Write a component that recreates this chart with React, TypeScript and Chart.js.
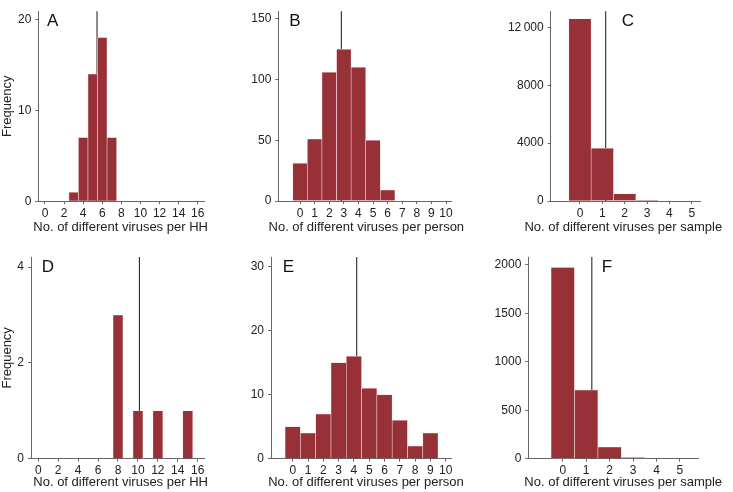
import React, { useEffect, useRef } from "react";
import { Chart, registerables } from "chart.js";

Chart.register(...registerables);

// ---------- Data ----------
const hhBinsA = [3, 4, 5, 6, 7];
const hhCountsA = [1, 7, 14, 18, 7];
const hhMeanA = 5.45;

const personBinsB = [0, 1, 2, 3, 4, 5, 6];
const personCountsB = [31, 51, 106, 125, 110, 50, 9];
const personMeanB = 2.83;

const sampleBinsC = [0, 1, 2, 3];
const sampleCountsC = [12600, 3640, 500, 20];
const sampleMeanC = 1.15;

const hhBinsD = [8, 9, 10, 11, 12, 13, 14, 15];
const hhCountsD = [3, 0, 1, 0, 1, 0, 0, 1];
const hhMeanD = 10.15;

const personBinsE = [0, 1, 2, 3, 4, 5, 6, 7, 8, 9];
const personCountsE = [5, 4, 7, 15, 16, 11, 10, 6, 2, 4];
const personMeanE = 4.18;

const sampleBinsF = [0, 1, 2, 3];
const sampleCountsF = [1975, 710, 120, 12];
const sampleMeanF = 1.24;

const hhXTicks = [0, 2, 4, 6, 8, 10, 12, 14, 16];
const personXTicks = [0, 1, 2, 3, 4, 5, 6, 7, 8, 9, 10];
const sampleXTicks = [0, 1, 2, 3, 4, 5];

const yTicksA = [0, 10, 20];
const yTicksB = [0, 50, 100, 150];
const yTicksC = [0, 4000, 8000, 12000];
const yTicksD = [0, 2, 4];
const yTicksE = [0, 10, 20, 30];
const yTicksF = [0, 500, 1000, 1500, 2000];

const xTitleHH = "No. of different viruses per HH";
const xTitlePerson = "No. of different viruses per person";
const xTitleSample = "No. of different viruses per sample";
const yTitleFreq = "Frequency";
const panelLetters = ["A", "B", "C", "D", "E", "F"];

// ---------- Styles ----------
const FONT = "'Liberation Sans', Arial, Helvetica, sans-serif";
const BAR = "#973037";
const BAR_EDGE = "#f3dcdc";
const AXIS = "#666666";
const TEXT = "#222222";
const MEAN_LINE = "#2a2a2a";

type Frame = {
  left: number; top: number; width: number; height: number;
  chartLeft: number; chartRight: number; chartTop: number; chartBottom: number;
  padBottom: number; letterDx: number; letterDy: number;
  titleX: number; titleY: number;
};

type Spec = {
  letter: string; bins: number[]; counts: number[]; mean: number;
  xTicks: number[]; yTicks: number[]; xMin: number; xMax: number; yMax: number;
  xTitle: string; yTitle?: string; frame: Frame;
};

const specs: Spec[] = [
  {
    letter: panelLetters[0], bins: hhBinsA, counts: hhCountsA, mean: hhMeanA,
    xTicks: hhXTicks, yTicks: yTicksA, xMin: -0.7, xMax: 16.65, yMax: 20.9,
    xTitle: xTitleHH, yTitle: yTitleFreq,
    frame: { left: 0, top: 0, width: 215, height: 235, chartLeft: 38.3, chartRight: 204, chartTop: 0, chartBottom: 201.2, padBottom: 0, letterDx: 8.7, letterDy: 15, titleX: 120.6, titleY: 227 },
  },
  {
    letter: panelLetters[1], bins: personBinsB, counts: personCountsB, mean: personMeanB,
    xTicks: personXTicks, yTicks: yTicksB, xMin: -1.49, xMax: 10.39, yMax: 156.2,
    xTitle: xTitlePerson,
    frame: { left: 240, top: 0, width: 225, height: 235, chartLeft: 278.3, chartRight: 451.7, chartTop: 0, chartBottom: 201, padBottom: 0, letterDx: 11, letterDy: 15, titleX: 366.3, titleY: 227 },
  },
  {
    letter: panelLetters[2], bins: sampleBinsC, counts: sampleCountsC, mean: sampleMeanC,
    xTicks: sampleXTicks, yTicks: yTicksC, xMin: -1.31, xMax: 5.37, yMax: 13120,
    xTitle: xTitleSample,
    frame: { left: 490, top: 0, width: 243, height: 235, chartLeft: 550.7, chartRight: 700, chartTop: 0, chartBottom: 201, padBottom: 0, letterDx: 71, letterDy: 15, titleX: 623.3, titleY: 227 },
  },
  {
    letter: panelLetters[3], bins: hhBinsD, counts: hhCountsD, mean: hhMeanD,
    xTicks: hhXTicks, yTicks: yTicksD, xMin: -0.73, xMax: 16.63, yMax: 4.21,
    xTitle: xTitleHH, yTitle: yTitleFreq,
    frame: { left: 0, top: 245, width: 215, height: 247, chartLeft: 31, chartRight: 204, chartTop: 257, chartBottom: 458.7, padBottom: 1.4, letterDx: 10.7, letterDy: 15.3, titleX: 120.6, titleY: 482.8 },
  },
  {
    letter: panelLetters[4], bins: personBinsE, counts: personCountsE, mean: personMeanE,
    xTicks: personXTicks, yTicks: yTicksE, xMin: -1.42, xMax: 10.39, yMax: 31.5,
    xTitle: xTitlePerson,
    frame: { left: 240, top: 245, width: 225, height: 247, chartLeft: 271, chartRight: 451.7, chartTop: 257, chartBottom: 458.7, padBottom: 1.4, letterDx: 11.7, letterDy: 15.3, titleX: 366, titleY: 482.8 },
  },
  {
    letter: panelLetters[5], bins: sampleBinsF, counts: sampleCountsF, mean: sampleMeanF,
    xTicks: sampleXTicks, yTicks: yTicksF, xMin: -1.47, xMax: 5.77, yMax: 2082,
    xTitle: xTitleSample,
    frame: { left: 490, top: 245, width: 243, height: 247, chartLeft: 528.3, chartRight: 698, chartTop: 257, chartBottom: 458.7, padBottom: 1.4, letterDx: 73.4, letterDy: 15.3, titleX: 623.2, titleY: 482.8 },
  },
];

function formatTick(v: number): string {
  if (Math.abs(v) >= 10000) {
    const s = String(Math.round(v));
    return s.slice(0, s.length - 3) + "\u2009" + s.slice(s.length - 3);
  }
  return String(v);
}

function Panel({ spec }: { spec: Spec }) {
  const ref = useRef<HTMLCanvasElement | null>(null);
  const f = spec.frame;

  useEffect(() => {
    if (!ref.current) return;
    const yAxisW = f.chartLeft - f.left;
    const padRight = f.left + f.width - f.chartRight;
    const padTop = f.chartTop - f.top;
    const xAxisH = f.top + f.height - f.padBottom - f.chartBottom;

    const textPlugin = {
      id: "panelText",
      afterDraw(chart: any) {
        const ctx = chart.ctx;
        const a = chart.chartArea;
        ctx.save();
        // panel letter
        ctx.font = `17px ${FONT}`;
        ctx.fillStyle = "#111111";
        ctx.textAlign = "left";
        ctx.textBaseline = "alphabetic";
        ctx.fillText(spec.letter, a.left + f.letterDx, a.top + f.letterDy);
        // x-axis title (drawn unclipped, wider than plot area like the original)
        ctx.font = `13px ${FONT}`;
        ctx.fillStyle = TEXT;
        ctx.textAlign = "center";
        ctx.textBaseline = "middle";
        ctx.fillText(spec.xTitle, f.titleX - f.left, f.titleY - f.top);
        ctx.restore();
      },
    };

    const chart = new Chart(ref.current, {
      type: "bar",
      data: {
        datasets: [
          {
            type: "bar",
            data: spec.bins.map((b, i) => ({ x: b, y: spec.counts[i] })),
            backgroundColor: BAR,
            borderColor: BAR_EDGE,
            borderWidth: 0.6,
            barPercentage: 1,
            categoryPercentage: 1,
            order: 0,
          } as any,
          {
            type: "line",
            data: [
              { x: spec.mean, y: 0 },
              { x: spec.mean, y: spec.yMax },
            ],
            borderColor: MEAN_LINE,
            borderWidth: 1.1,
            pointRadius: 0,
            order: 1,
            clip: false,
          } as any,
        ],
      },
      options: {
        responsive: false,
        animation: false,
        devicePixelRatio: 1,
        layout: {
          autoPadding: false,
          padding: { left: 0, right: padRight, top: padTop, bottom: f.padBottom },
        },
        plugins: {
          legend: { display: false },
          tooltip: { enabled: false },
        },
        scales: {
          x: {
            type: "linear",
            min: spec.xMin,
            max: spec.xMax,
            offset: false,
            grid: { display: true, offset: false, drawOnChartArea: false, drawTicks: true, tickLength: 3, color: AXIS, lineWidth: 1 },
            border: { display: true, color: AXIS, width: 1 },
            ticks: {
              autoSkip: false, maxRotation: 0, minRotation: 0, padding: 2,
              color: TEXT, font: { family: FONT, size: 12 },
              callback: (v: any) => formatTick(Number(v)),
            },
            afterBuildTicks: (s: any) => { s.ticks = spec.xTicks.map((v) => ({ value: v })); },
            afterFit: (s: any) => { s.height = xAxisH; },
            title: { display: false },
          } as any,
          y: {
            type: "linear",
            min: 0,
            max: spec.yMax,
            grid: { display: true, drawOnChartArea: false, drawTicks: true, tickLength: 3, color: AXIS, lineWidth: 1 },
            border: { display: true, color: AXIS, width: 1 },
            ticks: {
              autoSkip: false, padding: 4, color: TEXT, font: { family: FONT, size: 12 },
              callback: (v: any) => formatTick(Number(v)),
            },
            afterBuildTicks: (s: any) => { s.ticks = spec.yTicks.map((v) => ({ value: v })); },
            afterFit: (s: any) => { s.width = yAxisW; },
            title: {
              display: !!spec.yTitle, text: spec.yTitle || "", color: TEXT,
              font: { family: FONT, size: 13 }, padding: { top: 0, bottom: 0 },
            },
          } as any,
        },
      },
      plugins: [textPlugin as any],
    });
    return () => chart.destroy();
  }, []);

  return (
    <canvas
      ref={ref}
      width={f.width}
      height={f.height}
      style={{ position: "absolute", left: f.left, top: f.top, width: f.width, height: f.height }}
    />
  );
}

export default function App() {
  return (
    <div
      style={{
        position: "fixed", left: 0, top: 0, width: 733, height: 492,
        background: "#ffffff", overflow: "hidden",
      }}
    >
      {specs.map((s) => (
        <Panel key={s.letter} spec={s} />
      ))}
    </div>
  );
}
